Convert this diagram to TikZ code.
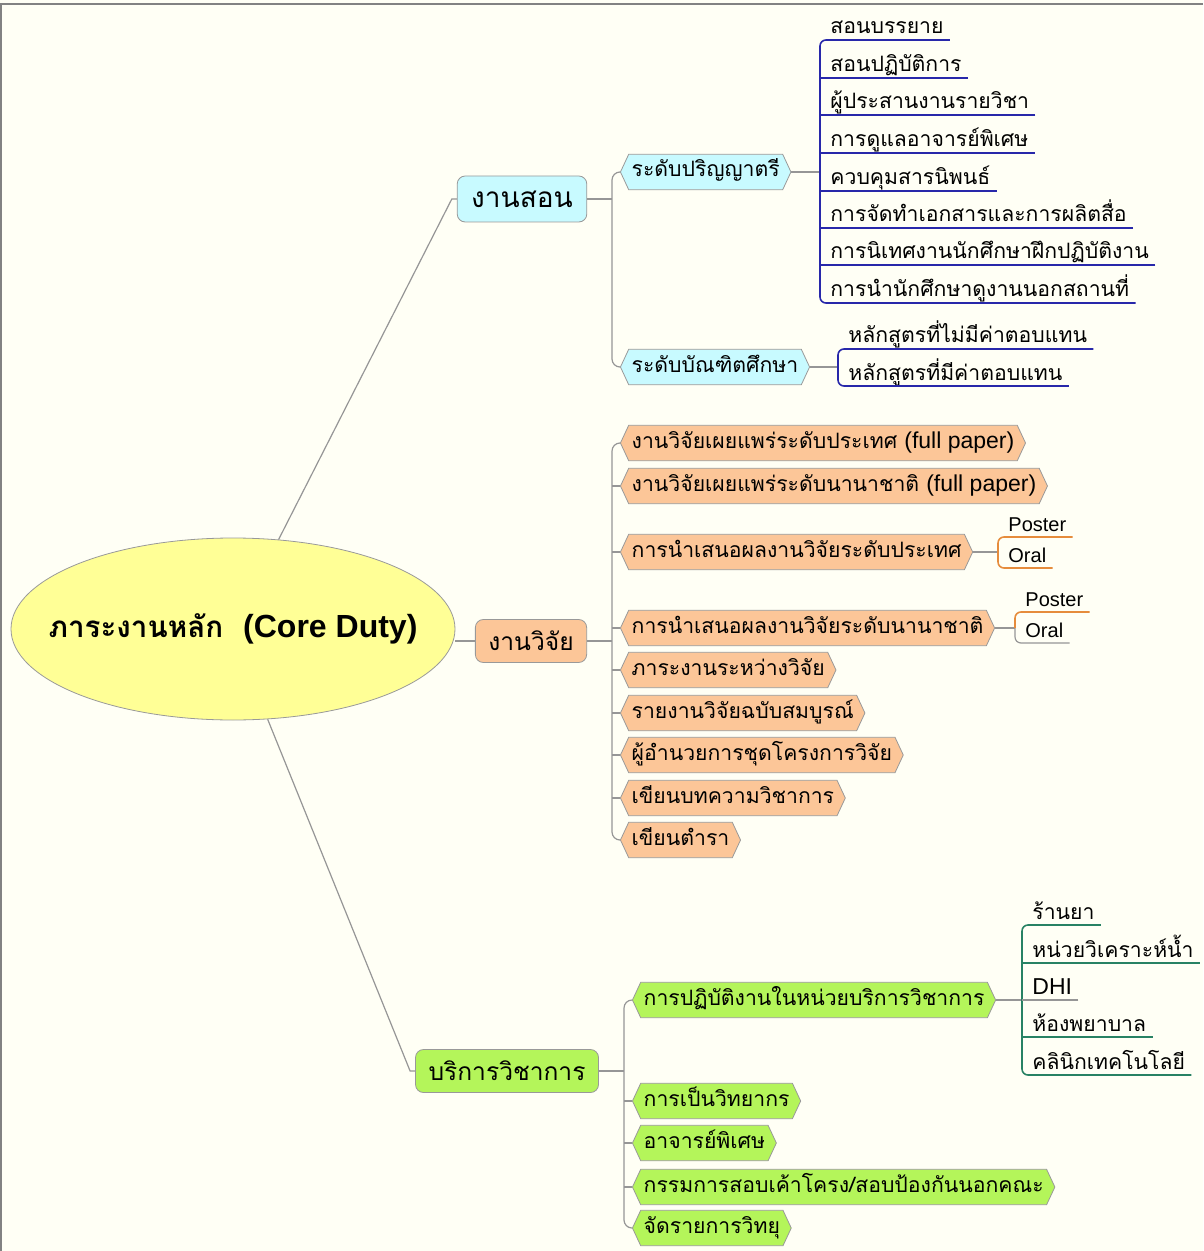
\documentclass[tikz,border=0pt]{standalone}
\usepackage{fontspec}
\setmainfont{Liberation Sans}
\newfontfamily\thai[Script=Thai]{Loma}
\newfontfamily\latn{Liberation Sans}
\usepackage{tikz}
\usetikzlibrary{shapes.geometric, shapes.symbols, positioning}
\definecolor{bgcream}{RGB}{255, 255, 245}
\definecolor{framegray}{RGB}{130, 130, 130}
\definecolor{linkgray}{RGB}{150, 150, 150}
\definecolor{coreyellow}{RGB}{255, 255, 150}
\definecolor{teachcyan}{RGB}{200, 250, 255}
\definecolor{respeach}{RGB}{252, 198, 152}
\definecolor{svcgreen}{RGB}{180, 245, 90}
\definecolor{leafblue}{RGB}{40, 40, 170}
\definecolor{leaforange}{RGB}{230, 140, 60}
\definecolor{leafgreen}{RGB}{40, 130, 100}

\begin{document}
\begin{tikzpicture}[x=0.5pt, y=-0.5pt,
  core/.style={ellipse, draw=gray!80, fill=coreyellow, minimum width=222pt, minimum height=91pt, inner sep=0pt},
  coretext/.style={font={\thai\bfseries\fontsize{14.8}{18}\selectfont}},
  topic/.style={draw=gray!80, rounded corners=4pt, minimum height=21.5pt, inner xsep=6.5pt, font={\thai\fontsize{12.3}{15}\selectfont}},
  sub/.style={signal, signal to=east and west, signal pointer angle=130, draw=gray!80, minimum height=17.5pt, inner xsep=1.5pt, text height=8pt, text depth=3pt, anchor=west, font={\thai\fontsize{10.6}{13}\selectfont}},
  leaf/.style={anchor=south west, inner xsep=3pt, inner ysep=0.8pt, text height=8pt, text depth=2pt, font={\thai\fontsize{10.6}{13}\selectfont}},
  enleaf/.style={leaf, font={\latn\fontsize{10}{12}\selectfont}},
  link/.style={draw=linkgray, line width=0.6pt},
  blueline/.style={draw=leafblue, line width=0.8pt},
  orangeline/.style={draw=leaforange, line width=0.8pt},
  greenline/.style={draw=leafgreen, line width=0.8pt}
]
  \useasboundingbox (0,0) rectangle (1203,1251);
  \fill[bgcream] (0,0) rectangle (1203,1251);
  \draw[framegray, line width=1pt] (1,1251) -- (1,4.5) -- (1203,4.5);

  % centre and main branches
  \node[core] (core) at (233,629) {};
  \node[coretext] (coretitle) at (core.center) {ภาระงานหลัก\ \ {\latn\fontsize{16}{18}\selectfont (Core Duty)}};
  \node[topic, fill=teachcyan, inner xsep=7pt, font={\thai\fontsize{14}{16}\selectfont}, minimum height=23pt] (teach) at (522,199) {งานสอน};
  \node[topic, fill=respeach] (research) at (531,641) {งานวิจัย};
  \node[topic, fill=svcgreen] (service) at (507,1071) {บริการวิชาการ};

  \draw[link] (core.63) -- ([xshift=-2.5pt]teach.west) -- (teach.west);
  \draw[link] (research.west -| core.east) -- (research.west);
  \draw[link] (core.291) -- ([xshift=-2.5pt]service.west) -- (service.west);

  % teaching
  \coordinate (teachj) at (612,199);
  \node[sub, fill=teachcyan] (ug) at (620,172) {ระดับปริญญาตรี};
  \node[sub, fill=teachcyan] (grad) at (620,367) {ระดับบัณฑิตศึกษา};
  \draw[link] (teach.east) -- (teachj);
  \draw[link, rounded corners=4pt] (ug.west) -| (teachj) |- (grad.west);

  \coordinate (ugj) at (820,172);
  \node[leaf] (u1) at (824,40) {สอนบรรยาย};
  \node[leaf] (u2) at (824,78) {สอนปฏิบัติการ};
  \node[leaf] (u3) at (824,115) {ผู้ประสานงานรายวิชา};
  \node[leaf] (u4) at (824,153) {การดูแลอาจารย์พิเศษ};
  \node[leaf] (u5) at (824,191) {ควบคุมสารนิพนธ์};
  \node[leaf] (u6) at (824,228) {การจัดทำเอกสารและการผลิตสื่อ};
  \node[leaf] (u7) at (824,265) {การนิเทศงานนักศึกษาฝึกปฏิบัติงาน};
  \node[leaf] (u8) at (824,303) {การนำนักศึกษาดูงานนอกสถานที่};
  \draw[link] (ug.east) -- (ugj);
  \draw[blueline, rounded corners=3pt] (u1.south east) -| (ugj) |- (u8.south east);
  \foreach \n in {u2,u3,u4,u5,u6,u7}
    \draw[blueline] (\n.south east) -- (\n.south east -| ugj);

  \coordinate (gradj) at (838,367);
  \node[leaf] (g1) at (842,349) {หลักสูตรที่ไม่มีค่าตอบแทน};
  \node[leaf] (g2) at (842,386) {หลักสูตรที่มีค่าตอบแทน};
  \draw[link] (grad.east) -- (gradj);
  \draw[blueline, rounded corners=3pt] (g1.south east) -| (gradj) |- (g2.south east);

  % research
  \coordinate (researchj) at (612,641);
  \node[sub, fill=respeach] (r1) at (620,443) {งานวิจัยเผยแพร่ระดับประเทศ {\latn\fontsize{11.5}{13}\selectfont (full paper)}};
  \node[sub, fill=respeach] (r2) at (620,486) {งานวิจัยเผยแพร่ระดับนานาชาติ {\latn\fontsize{11.5}{13}\selectfont (full paper)}};
  \node[sub, fill=respeach] (r3) at (620,552) {การนำเสนอผลงานวิจัยระดับประเทศ};
  \node[sub, fill=respeach] (r4) at (620,628) {การนำเสนอผลงานวิจัยระดับนานาชาติ};
  \node[sub, fill=respeach] (r5) at (620,670) {ภาระงานระหว่างวิจัย};
  \node[sub, fill=respeach] (r6) at (620,713) {รายงานวิจัยฉบับสมบูรณ์};
  \node[sub, fill=respeach] (r7) at (620,755) {ผู้อำนวยการชุดโครงการวิจัย};
  \node[sub, fill=respeach] (r8) at (620,798) {เขียนบทความวิชาการ};
  \node[sub, fill=respeach] (r9) at (620,840) {เขียนตำรา};
  \draw[link] (research.east) -- (researchj);
  \draw[link, rounded corners=4pt] (r1.west) -| (researchj) |- (r9.west);
  \foreach \n in {r2,r3,r4,r5,r6,r7,r8}
    \draw[link] (\n.west) -- (\n.west -| researchj);

  \coordinate (p3j) at (998,552);
  \node[enleaf] (po3) at (1002,537) {Poster};
  \node[enleaf] (or3) at (1002,568) {Oral};
  \draw[link] (r3.east) -- (p3j);
  \draw[orangeline, rounded corners=3pt] (po3.south east) -| (p3j) |- (or3.south east);

  \coordinate (p4j) at (1015,628);
  \node[enleaf] (po4) at (1019,612) {Poster};
  \node[enleaf] (or4) at (1019,643) {Oral};
  \draw[link] (r4.east) -- (p4j);
  \draw[orangeline, rounded corners=3pt] (po4.south east) -| (p4j);
  \draw[link, rounded corners=3pt] (p4j) |- (or4.south east);

  % academic service
  \coordinate (servicej) at (624,1071);
  \node[sub, fill=svcgreen] (s1) at (632,1000) {การปฏิบัติงานในหน่วยบริการวิชาการ};
  \node[sub, fill=svcgreen] (s2) at (632,1101) {การเป็นวิทยากร};
  \node[sub, fill=svcgreen] (s3) at (632,1143) {อาจารย์พิเศษ};
  \node[sub, fill=svcgreen] (s4) at (632,1187) {กรรมการสอบเค้าโครง/สอบป้องกันนอกคณะ};
  \node[sub, fill=svcgreen] (s5) at (632,1228) {จัดรายการวิทยุ};
  \draw[link] (service.east) -- (servicej);
  \draw[link, rounded corners=4pt] (s1.west) -| (servicej) |- (s5.west);
  \foreach \n in {s2,s3,s4}
    \draw[link] (\n.west) -- (\n.west -| servicej);

  \coordinate (s1j) at (1022,1000);
  \node[leaf] (v1) at (1026,925) {ร้านยา};
  \node[leaf] (v2) at (1026,963) {หน่วยวิเคราะห์น้ำ};
  \node[leaf, font={\latn\fontsize{11.5}{13}\selectfont}] (v3) at (1026,1000) {DHI};
  \node[leaf] (v4) at (1026,1037) {ห้องพยาบาล};
  \node[leaf] (v5) at (1026,1075) {คลินิกเทคโนโลยี};
  \draw[link] (s1.east) -- (s1j);
  \draw[greenline, rounded corners=3pt] (v1.south east) -| (s1j) |- (v5.south east);
  \draw[greenline] (v2.south east) -- (v2.south east -| s1j);
  \draw[greenline] (v4.south east) -- (v4.south east -| s1j);
  \draw[link] (v3.south east) -- (v3.south east -| s1j);
\end{tikzpicture}
\end{document}
